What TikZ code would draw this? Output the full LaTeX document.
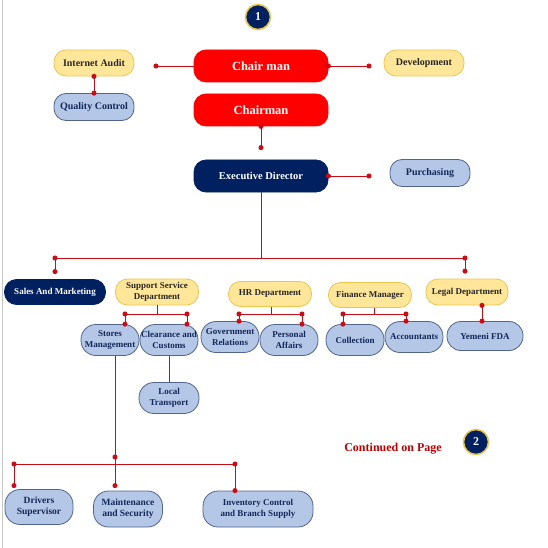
\documentclass[tikz,border=0pt]{standalone}
\usepackage{fontspec}
\setmainfont{Liberation Serif}
\usetikzlibrary{arrows.meta}
\definecolor{navy}{RGB}{0,32,96}
\definecolor{chairred}{RGB}{255,0,0}
\definecolor{paleyellow}{RGB}{255,230,153}
\definecolor{goldline}{RGB}{236,196,80}
\definecolor{paleblue}{RGB}{180,199,231}
\definecolor{slateline}{RGB}{80,100,140}
\definecolor{navytext}{RGB}{20,40,90}
\definecolor{wirered}{RGB}{205,10,20}
\definecolor{pagered}{RGB}{192,0,0}
\definecolor{badgegold}{RGB}{232,197,80}
\tikzset{box/.style = {rectangle, rounded corners=12pt, align=center, inner sep=1pt,
    line width=0.8pt, font=\bfseries\fontsize{9}{10.5}\selectfont}}
\tikzset{redbox/.style = {box, fill=chairred, draw=chairred, text=white,
    minimum width=134pt, minimum height=32pt, font=\bfseries\fontsize{12.5}{14}\selectfont}}
\tikzset{navybox/.style = {box, fill=navy, draw=navy, text=white}}
\tikzset{yellowbox/.style = {box, fill=paleyellow, draw=goldline, text=black!85}}
\tikzset{bluebox/.style = {box, fill=paleblue, draw=slateline, text=navytext}}
\tikzset{pill/.style = {bluebox, rounded corners=15pt, minimum height=31pt}}
\tikzset{badge/.style = {circle, fill=navy, draw=badgegold, line width=1.6pt, text=white,
    minimum size=25pt, inner sep=0pt, font=\bfseries\fontsize{12}{12}\selectfont}}
\tikzset{wire/.style = {draw=wirered, line width=0.9pt}}
\tikzset{dotwire/.style = {wire, {Circle[length=5pt]}-{Circle[length=5pt]},
    shorten <=-2.5pt, shorten >=-2.5pt}}

\begin{document}
\begin{tikzpicture}[x=1pt, y=-1pt]
            \useasboundingbox (0,0) rectangle (548,548);
            \draw[gray!45, line width=1pt] (2.5,0) -- (2.5,548);

            % top level
            \node[badge] (b1) at (258,17) {1};
            \node[redbox] (chair) at (261,66) {Chair man};
            \node[redbox] (chairman) at (261,110) {Chairman};
            \node[yellowbox, minimum width=80pt, minimum height=26pt, font=\bfseries\fontsize{10}{12}\selectfont] (audit) at (94,63) {Internet Audit};
            \node[yellowbox, minimum width=80pt, minimum height=26pt, font=\bfseries\fontsize{10}{12}\selectfont] (devel) at (424,63) {Development};
            \node[bluebox, minimum width=80pt, minimum height=27pt, font=\bfseries\fontsize{10}{12}\selectfont] (quality) at (94,107) {Quality Control};
            \node[navybox, minimum width=134pt, minimum height=32pt, font=\bfseries\fontsize{10.5}{12}\selectfont] (exec) at (261,176) {Executive Director};
            \node[bluebox, minimum width=80pt, minimum height=27pt, font=\bfseries\fontsize{10}{12}\selectfont] (purch) at (430,173) {Purchasing};

            % departments
            \node[navybox, minimum width=101pt, minimum height=25pt] (sales) at (55,292) {Sales And Marketing};
            \node[yellowbox, minimum width=83pt, minimum height=26pt] (support) at (157,292) {Support Service\\Department};
            \node[yellowbox, minimum width=83pt, minimum height=25pt] (hr) at (270,294) {HR Department};
            \node[yellowbox, minimum width=83pt, minimum height=25pt] (finance) at (370,295) {Finance Manager};
            \node[yellowbox, minimum width=82pt, minimum height=26pt] (legal) at (467,292) {Legal Department};

            % sections
            \node[pill, minimum width=58pt] (stores) at (110,340) {Stores\\Management};
            \node[pill, minimum width=58pt] (clear) at (169,340) {Clearance and\\Customs};
            \node[pill, minimum width=58pt] (gov) at (230,337) {Government\\Relations};
            \node[pill, minimum width=58pt] (personal) at (289,340) {Personal\\Affairs};
            \node[pill, minimum width=58pt] (collect) at (355,340) {Collection};
            \node[pill, minimum width=58pt] (account) at (414,337) {Accountants};
            \node[bluebox, rounded corners=14pt, minimum width=76pt, minimum height=29pt] (fda) at (485,336) {Yemeni FDA};
            \node[pill, minimum width=60pt] (local) at (169,398) {Local\\Transport};
            \node[pill, minimum width=68pt, minimum height=35pt, font=\bfseries\fontsize{9.5}{11}\selectfont] (drivers) at (39,507) {Drivers\\Supervisor};
            \node[pill, minimum width=69pt, minimum height=36pt, font=\bfseries\fontsize{9.5}{11}\selectfont] (maint) at (128,509) {Maintenance\\and Security};
            \node[pill, minimum width=110pt, minimum height=36pt] (inventory) at (258,509) {Inventory Control\\and Branch Supply};

            \node[text=pagered, font=\bfseries\fontsize{12}{14}\selectfont] (cont) at (393,449) {Continued on Page};
            \node[badge] (b2) at (476,442) {2};

            % free ends and bus points
            \coordinate (chairL) at (156,66);
            \coordinate (chairR) at (369,66);
            \coordinate (execR) at (369,176);
            \coordinate (busL) at (55,258);
            \coordinate (busR) at (465,258);
            \coordinate (ssL) at (125,314);
            \coordinate (ssR) at (187,314);
            \coordinate (hrL) at (239,314);
            \coordinate (hrR) at (302,314);
            \coordinate (finL) at (343,314);
            \coordinate (finR) at (406,314);
            \coordinate (lowL) at (14,464);
            \coordinate (lowM) at (115,464);
            \coordinate (lowR) at (235,464);
            \coordinate (lowTop) at (115,457);

            % edges
            \draw[wire, {Circle[length=5pt]}-, shorten <=-2.5pt] (chairL) -- (chair.west);
            \draw[dotwire] (chair.east) -- (chairR);
            \draw[dotwire] (audit.south) -- (quality.north);
            \draw[dotwire, shorten >=9.5pt] (chairman.south) -- (exec.north);
            \draw[dotwire] (exec.east) -- (execR);

            \draw[wire] (exec.south) -- (exec.south |- busL);
            \draw[wire] (busL) -- (busR);
            \draw[dotwire, shorten >=5pt] (busL) -- (sales.north);
            \draw[dotwire, shorten >=5pt] (busR) -- (busR |- legal.north);

            \draw[wire] (support.south) -- (support.south |- ssL);
            \draw[wire] (ssL) -- (ssR);
            \draw[dotwire] (ssL) -- (ssL |- stores.north);
            \draw[dotwire] (ssR) -- (ssR |- clear.north);
            \draw[wire] (clear.south) -- (local.north);

            \draw[wire] ([xshift=1pt]hr.south) -- ([xshift=1pt]hr.south |- hrL);
            \draw[wire] (hrL) -- (hrR);
            \draw[dotwire] (hrL) -- (hrL |- gov.north);
            \draw[dotwire] (hrR) -- (hrR |- personal.north);

            \draw[wire] ([xshift=4pt]finance.south) -- ([xshift=4pt]finance.south |- finL);
            \draw[wire] (finL) -- (finR);
            \draw[dotwire] (finL) -- (finL |- collect.north);
            \draw[dotwire] (finR) -- (finR |- account.north);

            \draw[dotwire] ([xshift=15pt]legal.south) -- ([xshift=15pt]legal.south |- fda.north);

            \draw[wire] ([xshift=5pt]stores.south) -- (lowM);
            \draw[wire] (lowL) -- (lowR);
            \draw[dotwire, shorten >=1pt] (lowL) -- (lowL |- drivers.north);
            \draw[dotwire, shorten >=2.5pt] (lowTop) -- (lowM |- maint.north);
            \draw[dotwire] (lowR) -- (lowR |- inventory.north);
\end{tikzpicture}
\end{document}
